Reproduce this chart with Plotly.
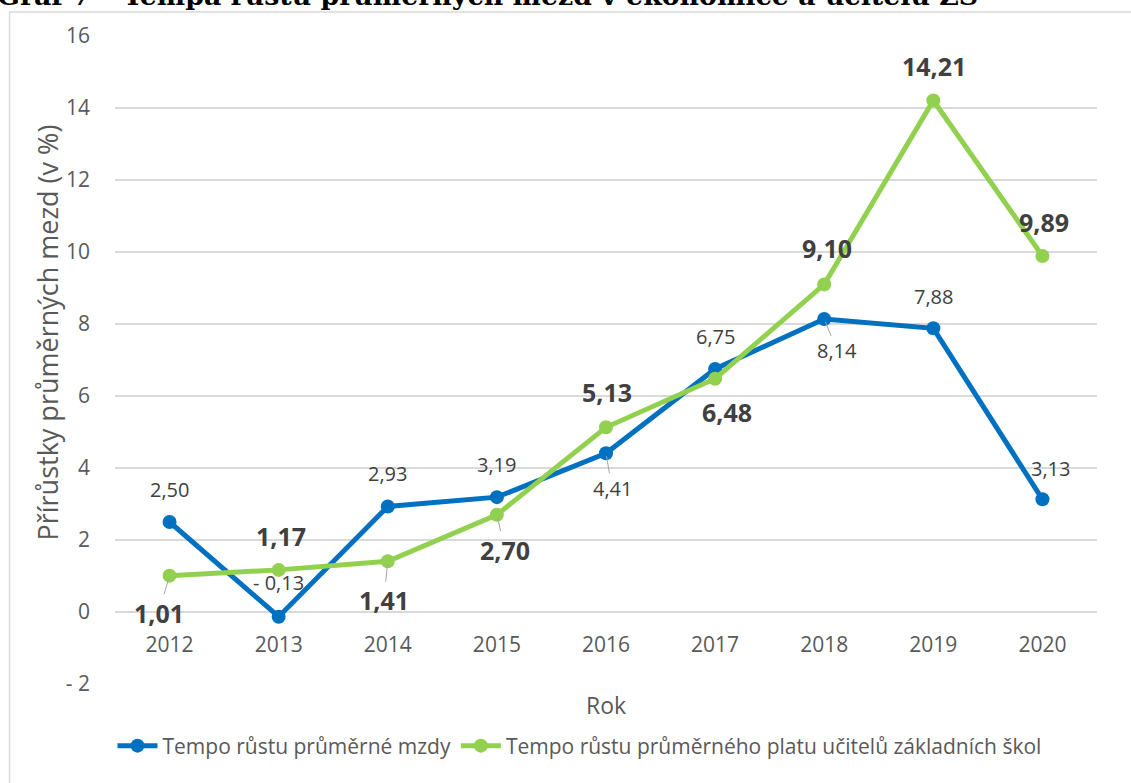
import plotly.graph_objects as go

years = ["2012", "2013", "2014", "2015", "2016", "2017", "2018", "2019", "2020"]
avg_wage = [2.50, -0.13, 2.93, 3.19, 4.41, 6.75, 8.14, 7.88, 3.13]
teacher_pay = [1.01, 1.17, 1.41, 2.70, 5.13, 6.48, 9.10, 14.21, 9.89]
name_wage = "Tempo růstu průměrné mzdy"
name_teacher = "Tempo růstu průměrného platu učitelů základních škol"
y_ticks = [-2, 0, 2, 4, 6, 8, 10, 12, 14, 16]
title_text = "Graf 7 – Tempa růstu průměrných mezd v ekonomice a učitelů ZŠ"
y_title = "Přírůstky průměrných mezd (v %)"
x_title = "Rok"

# label offsets (px): (dx, dy, leader line)
wage_off = [(0, -33, False), (0, -34, False), (0, -33, False), (0, -33, False),
            (6, 35, True), (0, -33, False), (13, 32, True), (0, -32, False), (8, -31, False)]
teacher_off = [(-11, 37, True), (2, -34, False), (-4, 39, True), (8, 35, True),
               (1, -35, False), (12, 33, False), (3, -36, False), (1, -34, False), (2, -34, False)]

BLUE = "#0070C0"
GREEN = "#92D050"
FONT = "Open Sans"


def fmt(v):
    s = f"{abs(v):.2f}".replace(".", ",")
    return ("- " + s) if v < 0 else s


def tick_fmt(v):
    return ("- " + str(abs(v))) if v < 0 else str(v)


fig = go.Figure()
fig.add_trace(go.Scatter(x=years, y=avg_wage, name=name_wage, mode="lines+markers",
                         line=dict(color=BLUE, width=5), marker=dict(size=14, color=BLUE)))
fig.add_trace(go.Scatter(x=years, y=teacher_pay, name=name_teacher, mode="lines+markers",
                         line=dict(color=GREEN, width=5), marker=dict(size=14, color=GREEN)))

annots = []
for series, offs, bold in ((avg_wage, wage_off, False), (teacher_pay, teacher_off, True)):
    for i, (v, (dx, dy, leader)) in enumerate(zip(series, offs)):
        txt = f"<b>{fmt(v)}</b>" if bold else fmt(v)
        f = dict(family=FONT, size=25 if bold else 20, color="#404040")
        if leader:
            annots.append(dict(x=i, y=v, xref="x", yref="y", text=txt, font=f,
                               showarrow=True, ax=dx, ay=dy, arrowhead=0, arrowwidth=1,
                               arrowcolor="#a6a6a6", standoff=3))
        else:
            annots.append(dict(x=i, y=v, xref="x", yref="y", text=txt, font=f,
                               showarrow=False, xshift=dx, yshift=-dy))

annots.append(dict(text=x_title, xref="paper", yref="paper", x=0.4995, y=-0.0324,
                   xanchor="center", yanchor="middle", showarrow=False,
                   font=dict(family=FONT, size=23, color="#595959")))
annots.append(dict(text=y_title, xref="paper", yref="paper",
                   x=(46 - 114.5) / 982.5, y=(684 - 333) / 648, textangle=-90,
                   xanchor="center", yanchor="middle", showarrow=False,
                   font=dict(family=FONT, size=27, color="#595959")))
annots.append(dict(text=f"<b>{title_text}</b>", xref="paper", yref="paper",
                   x=-0.1225, y=1 + 36 / 648, xanchor="left", yanchor="middle", yshift=4,
                   showarrow=False, font=dict(family="DejaVu Serif", size=26.8, color="#000000")))

fig.update_layout(
    width=1131, height=783,
    margin=dict(l=114.5, r=34, t=36, b=99),
    paper_bgcolor="white", plot_bgcolor="white",
    font=dict(family=FONT, color="#595959"),
    showlegend=True,
    legend=dict(orientation="h", x=0.473, xanchor="center", y=-0.0957, yanchor="middle",
                font=dict(family=FONT, size=21, color="#595959"), itemwidth=40,
                bgcolor="rgba(0,0,0,0)"),
    annotations=annots,
    shapes=[dict(type="rect", xref="paper", yref="paper",
                 x0=(9 - 114.5) / 982.5, x1=(1134 - 114.5) / 982.5,
                 y0=(684 - 820) / 648, y1=(684 - 12) / 648,
                 line=dict(color="#d9d9d9", width=1.5), layer="below")],
)
fig.update_xaxes(type="category", range=[-0.5, 8.5], showgrid=False, showline=False,
                 zeroline=False, ticks="", anchor="free", position=2 / 18,
                 ticklabelstandoff=18, tickfont=dict(family=FONT, size=21, color="#595959"))
fig.update_yaxes(range=[-2, 16], tickvals=y_ticks, ticktext=[tick_fmt(v) for v in y_ticks],
                 showgrid=True, gridcolor="#d9d9d9", gridwidth=1.5, zeroline=False,
                 showline=False, ticks="", ticklabelstandoff=24,
                 tickfont=dict(family=FONT, size=21, color="#595959"))

fig.write_html("out.html", config={"displayModeBar": False},
               post_script="document.body.style.margin='0';")
